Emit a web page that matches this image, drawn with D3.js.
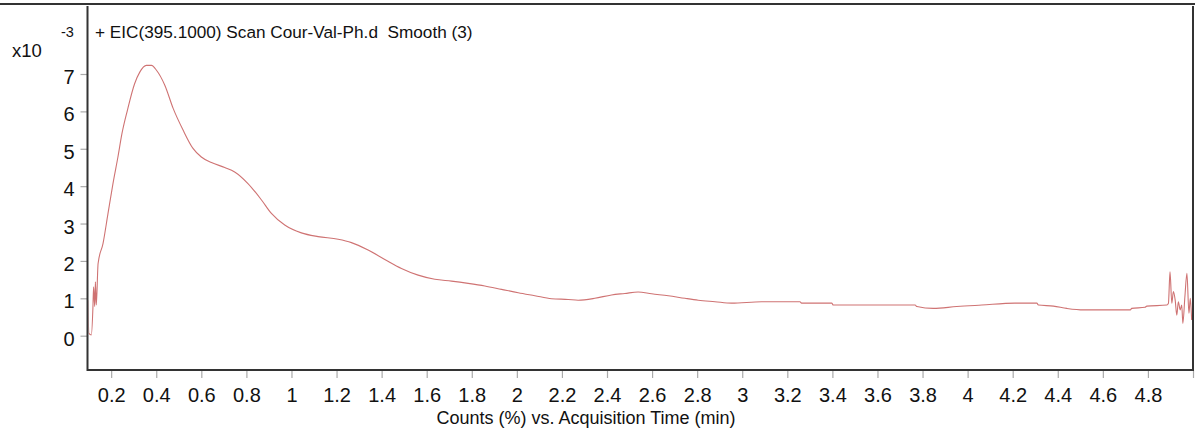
<!DOCTYPE html>
<html>
<head>
<meta charset="utf-8">
<script src="https://cdn.jsdelivr.net/npm/d3@7"></script>
<style>
  body { margin: 0; background: #fff; }
  #vis-main { width: 1195px; height: 437px; }
  text { font-family: "Liberation Sans", Arial, sans-serif; fill: #111; white-space: pre; }
</style>
</head>
<body>
<div id="vis-main"></div>
<script>

/* Data */
/* ---- */

var title = '+ EIC(395.1000) Scan Cour-Val-Ph.d  Smooth (3)';
var xLabel = 'Counts (%) vs. Acquisition Time (min)';

var xTicks = [0.2, 0.4, 0.6, 0.8, 1, 1.2, 1.4, 1.6, 1.8, 2, 2.2, 2.4, 2.6, 2.8, 3, 3.2, 3.4, 3.6, 3.8, 4, 4.2, 4.4, 4.6, 4.8, 5];
var yTicks = [0, 1, 2, 3, 4, 5, 6, 7];

// acquisition time (min)
var times = [0.097, 0.101, 0.112, 0.119, 0.122, 0.127, 0.130, 0.134, 0.142, 0.164, 0.186, 0.208, 0.230, 0.248, 0.272, 0.304, 0.327, 0.356, 0.379, 0.401, 0.438, 0.475, 0.519, 0.563, 0.600, 0.645, 0.704, 0.748, 0.807, 0.867, 0.911, 0.970, 1.044, 1.118, 1.207, 1.266, 1.340, 1.414, 1.488, 1.562, 1.636, 1.710, 1.784, 1.858, 1.932, 2.006, 2.080, 2.154, 2.228, 2.272, 2.346, 2.420, 2.479, 2.538, 2.598, 2.672, 2.746, 2.805, 2.879, 2.953, 3.086, 3.256, 3.263, 3.397, 3.404, 3.767, 3.775, 3.848, 3.952, 4.063, 4.210, 4.307, 4.314, 4.381, 4.440, 4.514, 4.722, 4.728, 4.787, 4.795, 4.884, 4.891, 4.898, 4.906, 4.913, 4.921, 4.928, 4.935, 4.943, 4.950, 4.955, 4.964, 4.973, 4.982, 4.988, 4.994];

// counts (x10^-3)
var counts = [0.95, 0.06, 0.02, 0.74, 1.31, 0.78, 1.44, 0.82, 1.93, 2.47, 3.27, 4.07, 4.78, 5.41, 6.03, 6.74, 7.05, 7.23, 7.23, 7.10, 6.70, 6.08, 5.50, 5.01, 4.78, 4.63, 4.50, 4.38, 4.07, 3.63, 3.27, 2.96, 2.75, 2.65, 2.58, 2.49, 2.29, 2.04, 1.80, 1.62, 1.51, 1.46, 1.40, 1.33, 1.24, 1.15, 1.07, 0.99, 0.97, 0.95, 1.00, 1.09, 1.13, 1.17, 1.12, 1.07, 1.00, 0.95, 0.91, 0.87, 0.91, 0.91, 0.87, 0.87, 0.82, 0.82, 0.78, 0.73, 0.78, 0.82, 0.87, 0.87, 0.82, 0.79, 0.73, 0.69, 0.69, 0.73, 0.76, 0.79, 0.82, 0.87, 1.71, 0.87, 1.18, 0.95, 0.55, 0.91, 0.69, 0.82, 0.33, 1.04, 1.67, 0.60, 1.00, 0.42];


/* Globals */
/* ------- */

var vis = {};
vis.dims = { width: 1195, height: 437, left: 87.5, right: 1193, top: 6, bottom: 370 };
vis.scale = {};
vis.svg;


/* Setup */
/* ----- */

function setupVisual() {

  var svg = d3.select('#vis-main')
    .append('svg')
      .attr('width', vis.dims.width)
      .attr('height', vis.dims.height);

  vis.scale.x = d3.scaleLinear().domain([0.095, 5.0]).range([vis.dims.left, vis.dims.right]);
  vis.scale.y = d3.scaleLinear().domain([0, 7]).range([335.7, 74]);

  vis.svg = svg;

} // setupVisual()

function drawAxes() {

  var x = vis.scale.x, y = vis.scale.y, d = vis.dims;

  // x ticks
  var xAxis = d3.axisBottom(x).tickValues(xTicks).tickSize(8).tickPadding(10)
      .tickFormat(function(v) { return v === 5 ? '' : d3.format('~g')(v); });

  var gx = vis.svg.append('g')
      .attr('transform', 'translate(0,' + d.bottom + ')')
      .call(xAxis);

  gx.select('.domain').remove();
  gx.selectAll('.tick line').attr('stroke', '#aaa').attr('stroke-width', 1.2);
  gx.selectAll('.tick text')
      .attr('font-size', 20)
      .attr('fill', '#111');

  // y ticks
  var yAxis = d3.axisLeft(y).tickValues(yTicks).tickSize(7).tickPadding(6)
      .tickFormat(d3.format('d'));

  var gy = vis.svg.append('g')
      .attr('transform', 'translate(' + d.left + ',0)')
      .call(yAxis);

  gy.select('.domain').remove();
  gy.selectAll('.tick line').attr('stroke', '#aaa').attr('stroke-width', 1.2);
  gy.selectAll('.tick text')
      .attr('font-size', 20)
      .attr('dy', '0.48em')
      .attr('fill', '#111');

  // frame
  vis.svg.append('line')
      .attr('x1', 0).attr('x2', d.width)
      .attr('y1', 4).attr('y2', 4)
      .attr('stroke', '#333').attr('stroke-width', 2);

  vis.svg.append('path')
      .attr('d', 'M' + d.left + ',' + d.top + 'V' + d.bottom + 'H' + d.right + 'V' + d.top)
      .attr('fill', 'none')
      .attr('stroke', '#333')
      .attr('stroke-width', 2);

} // drawAxes()

function drawLabels() {

  vis.svg.append('text')
      .attr('x', 95).attr('y', 37.5)
      .attr('font-size', 17.2)
      .text(title);

  vis.svg.append('text')
      .attr('x', 12).attr('y', 57)
      .attr('font-size', 18.5)
      .text('x10');

  vis.svg.append('text')
      .attr('x', 61).attr('y', 37)
      .attr('font-size', 14.5)
      .text('-3');

  vis.svg.append('text')
      .attr('x', 586).attr('y', 424)
      .attr('text-anchor', 'middle')
      .attr('font-size', 18)
      .text(xLabel);

} // drawLabels()

function drawTrace() {

  var x = vis.scale.x, y = vis.scale.y, d = vis.dims;

  vis.svg.append('clipPath').attr('id', 'plot-clip')
    .append('rect')
      .attr('x', d.left + 1).attr('y', d.top)
      .attr('width', d.right - d.left - 2).attr('height', d.bottom - d.top - 1);

  var points = times.map(function(t, i) { return [t, counts[i]]; });

  var line = d3.line()
      .curve(d3.curveMonotoneX)
      .x(function(p) { return x(p[0]); })
      .y(function(p) { return y(p[1]); });

  vis.svg.append('path')
      .datum(points)
      .attr('clip-path', 'url(#plot-clip)')
      .attr('d', line)
      .attr('fill', 'none')
      .attr('stroke', '#cf7373')
      .attr('stroke-width', 1.1);

} // drawTrace()


setupVisual();
drawTrace();
drawAxes();
drawLabels();

</script>
</body>
</html>
